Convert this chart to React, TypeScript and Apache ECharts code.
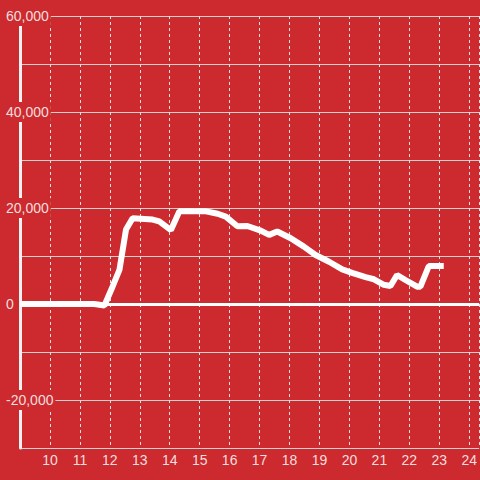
import React, { useEffect, useRef } from "react";
import * as echarts from "echarts";

const xValues = [9, 11.48, 11.82, 12.09, 12.32, 12.54, 12.76, 13.43, 13.65, 14.04, 14.32, 15.21, 15.6, 15.87, 16.26, 16.59, 17.04, 17.32, 17.59, 18.04, 18.48, 18.87, 19.32, 19.76, 20.09, 20.54, 20.82, 21.15, 21.37, 21.59, 21.87, 22.26, 22.37, 22.65, 23.15];
const yValues = [0, 0, -300, 3600, 7100, 15500, 17850, 17600, 17200, 15400, 19300, 19300, 18800, 18200, 16200, 16250, 15300, 14400, 15100, 13700, 11950, 10200, 8800, 7200, 6500, 5600, 5150, 4000, 3750, 6050, 5000, 3600, 3600, 7900, 7900];

const BG = "#cd2a2f";
const LABEL = "#f3dede";
const FONT = "'Liberation Sans', Arial, sans-serif";

export default function App() {
  const ref = useRef<HTMLDivElement>(null);
  useEffect(() => {
    if (!ref.current) return;
    const chart = echarts.init(ref.current, null, { renderer: "svg" });
    const data = xValues.map((x, i) => [x, yValues[i]]);
    chart.setOption({
      animation: false,
      backgroundColor: BG,
      grid: { left: 20, right: 0, top: 16, bottom: 32, containLabel: false },
      xAxis: {
        type: "value",
        min: 9,
        max: 24.333,
        interval: 1,
        axisLine: { show: false },
        axisTick: { show: false },
        axisLabel: {
          color: LABEL,
          fontSize: 14,
          fontFamily: FONT,
          margin: 5,
          showMaxLabel: false,
          formatter: (v: number) => (Number.isInteger(v) && v > 9 ? String(v) : ""),
        },
        splitLine: { show: true, lineStyle: { color: "#e6e0e0", width: 1, type: [3, 3] } },
      },
      yAxis: {
        type: "value",
        min: -30000,
        max: 60000,
        interval: 10000,
        axisLine: { show: true, lineStyle: { color: "#f2f2f2", width: 3 } },
        axisTick: { show: false },
        axisLabel: {
          align: "left",
          margin: 14,
          formatter: (v: number) => (v % 20000 === 0 ? "{b|" + v.toLocaleString("en-US") + "}" : ""),
          rich: {
            b: {
              color: LABEL,
              fontSize: 14,
              fontFamily: FONT,
              backgroundColor: BG,
              padding: [3, 2, 3, 0],
            },
          },
        },
        splitLine: { show: true, lineStyle: { color: "#d6d0d0", width: 1 } },
      },
      series: [
        {
          type: "line",
          data,
          showSymbol: false,
          symbol: "none",
          lineStyle: { color: "#ffffff", width: 6 },
          markLine: {
            silent: true,
            symbol: "none",
            label: { show: false },
            lineStyle: { color: "#ffffff", width: 3, type: "solid" },
            data: [{ yAxis: 0 }],
          },
        },
      ],
    });
    return () => chart.dispose();
  }, []);
  return <div ref={ref} style={{ width: 480, height: 480, position: "absolute", left: 0, top: 0 }} />;
}
